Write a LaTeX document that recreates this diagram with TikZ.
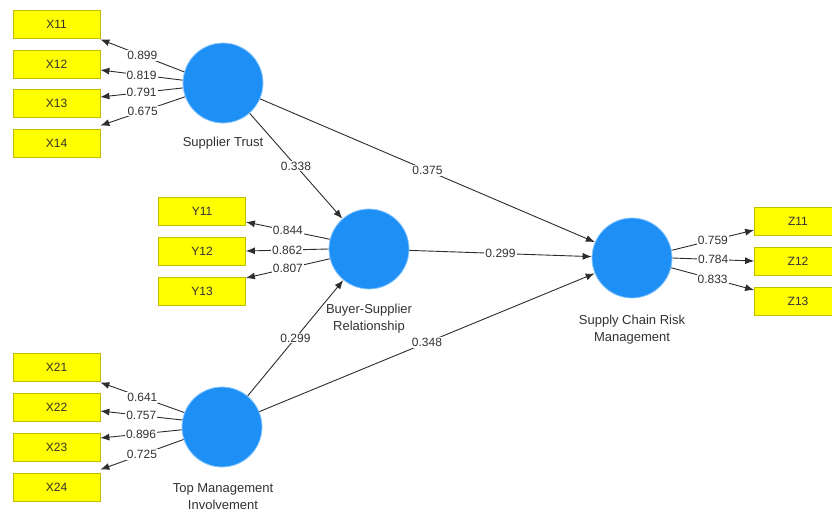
\documentclass[tikz,border=0pt]{standalone}
\usepackage{fontspec}
\setmainfont{Liberation Sans}
\usetikzlibrary{arrows.meta}
\definecolor{lvblue}{RGB}{30,144,245}
\definecolor{lvedge}{RGB}{140,200,255}
\definecolor{boxyellow}{RGB}{255,255,0}
\definecolor{boxborder}{RGB}{190,190,0}
\definecolor{arrowgray}{RGB}{45,45,45}
\definecolor{textgray}{RGB}{50,50,50}
\begin{document}
\begin{tikzpicture}[x=1pt,y=-1pt,
  ind/.style={draw=arrowgray, line width=0.9pt, -{Latex[length=9pt,width=7pt]}},
  lbl/.style={fill=white, inner sep=1pt, text=textgray, font=\fontsize{12}{13}\selectfont},
  ibox/.style={draw=boxborder, line width=0.8pt, fill=boxyellow, minimum width=87pt, minimum height=28pt, inner sep=0pt, text=textgray, font=\fontsize{12}{13}\selectfont},
  lv/.style={circle, fill=lvblue, draw=lvedge, line width=0.8pt, minimum size=80pt, inner sep=0pt},
  lvcaption/.style={align=center, text=textgray, font=\fontsize{13}{16.5}\selectfont}]
\useasboundingbox (0,0) rectangle (832,512);
\clip (0,0) rectangle (832,512);
\fill[white] (0,0) rectangle (832,512);

% latent variables
\node[lv] (st) at (223,83) {};
\node[lv] (bsr) at (369,249) {};
\node[lv] (scrm) at (632,258) {};
\node[lv] (tmi) at (222,427) {};

\node[lvcaption] (stc) at (223,143) {Supplier Trust};
\node[lvcaption] (bsrc) at (369,318.5) {Buyer-Supplier\\Relationship};
\node[lvcaption] (scrmc) at (632,329.5) {Supply Chain Risk\\Management};
\node[lvcaption] (tmic) at (223,496.5) {Top Management\\Involvement};

% indicators
\node[ibox] (x11) at (56.5,24) {X11};
\node[ibox] (x12) at (56.5,64) {X12};
\node[ibox] (x13) at (56.5,103) {X13};
\node[ibox] (x14) at (56.5,143) {X14};

\node[ibox] (y11) at (202,211) {Y11};
\node[ibox] (y12) at (202,251) {Y12};
\node[ibox] (y13) at (202,291) {Y13};

\node[ibox] (z11) at (798,221) {Z11};
\node[ibox] (z12) at (798,261) {Z12};
\node[ibox] (z13) at (798,301) {Z13};

\node[ibox] (x21) at (56.5,367) {X21};
\node[ibox] (x22) at (56.5,407) {X22};
\node[ibox] (x23) at (56.5,447) {X23};
\node[ibox] (x24) at (56.5,487) {X24};

% outer loadings
\draw[ind] (st.164) -- node[lbl]{0.899} ([yshift=-1pt]x11.south east);
\draw[ind] (st.176) -- node[lbl]{0.819} ([yshift=-6pt]x12.east);
\draw[ind] (st.187) -- node[lbl]{0.791} ([yshift=6pt]x13.east);
\draw[ind] (st.200) -- node[lbl]{0.675} ([yshift=3pt]x14.north east);

\draw[ind] (bsr.166) -- node[lbl]{0.844} ([yshift=-11pt]y11.east);
\draw[ind] (bsr.180) -- node[lbl]{0.862} (y12.east);
\draw[ind] (bsr.194) -- node[lbl]{0.807} ([yshift=13pt]y13.east);

\draw[ind] (scrm.11) -- node[lbl]{0.759} ([yshift=-9pt]z11.west);
\draw[ind] (scrm.0) -- node[lbl]{0.784} (z12.west);
\draw[ind] (scrm.-14) -- node[lbl]{0.833} ([yshift=11pt]z13.west);

\draw[ind] (tmi.159) -- node[lbl]{0.641} ([yshift=-1pt]x21.south east);
\draw[ind] (tmi.170) -- node[lbl]{0.757} ([yshift=-4pt]x22.east);
\draw[ind] (tmi.184) -- node[lbl]{0.896} ([yshift=9pt]x23.east);
\draw[ind] (tmi.198) -- node[lbl]{0.725} ([yshift=3pt]x24.north east);

% structural paths
\draw[ind] (st) -- node[lbl]{0.338} (bsr);
\draw[ind] (st) -- node[lbl]{0.375} (scrm);
\draw[ind] (bsr) -- node[lbl]{0.299} (scrm);
\draw[ind] (tmi) -- node[lbl]{0.299} (bsr);
\draw[ind] (tmi) -- node[lbl]{0.348} (scrm);
\end{tikzpicture}
\end{document}
